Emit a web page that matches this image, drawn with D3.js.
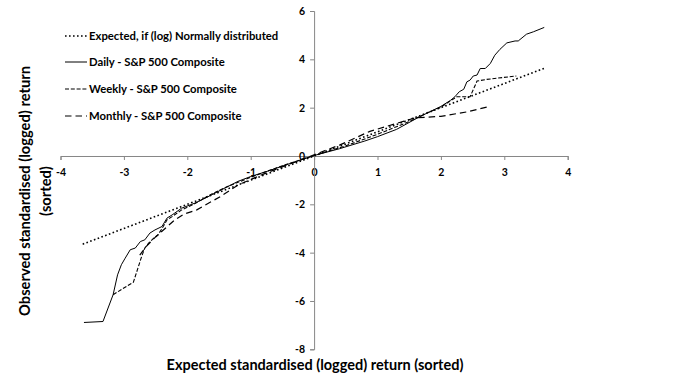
<!DOCTYPE html>
<html><head><meta charset="utf-8">
<script src="https://cdn.jsdelivr.net/npm/d3@7"></script>
<style>
html,body{margin:0;padding:0;background:#fff;}
svg{display:block;font-family:Lato,"Open Sans",sans-serif;}
</style></head>
<body><svg id="c" width="683" height="384"></svg>
<script>
// ---- data ----
const xTicks = [-4,-3,-2,-1,0,1,2,3,4];
const yTicks = [-8,-6,-4,-2,0,2,4,6];
const seriesNames = ["Expected, if (log) Normally distributed","Daily - S&P 500 Composite","Weekly - S&P 500 Composite","Monthly - S&P 500 Composite"];
const expectedPoints = [[-3.65,-3.65],[3.65,3.65]];
const dailyPoints = [[-3.63,-6.89],[-3.33,-6.85],[-3.17,-5.74],[-3.10,-4.92],[-3.04,-4.50],[-2.98,-4.23],[-2.90,-3.88],[-2.82,-3.81],[-2.74,-3.54],[-2.67,-3.47],[-2.59,-3.19],[-2.51,-3.06],[-2.40,-2.92],[-2.32,-2.57],[-2.24,-2.44],[-2.09,-2.16],[-1.88,-1.95],[-1.72,-1.75],[-1.50,-1.45],[-1.20,-1.05],[-1.00,-0.85],[-0.70,-0.60],[-0.40,-0.33],[0,0.02],[0.40,0.30],[0.80,0.62],[1.00,0.80],[1.30,1.10],[1.62,1.56],[1.80,1.80],[2.00,2.05],[2.15,2.30],[2.22,2.45],[2.29,2.66],[2.36,2.76],[2.41,3.07],[2.46,3.14],[2.51,3.31],[2.57,3.35],[2.62,3.62],[2.70,3.62],[2.78,3.83],[2.85,4.17],[2.93,4.41],[3.04,4.68],[3.17,4.76],[3.22,4.76],[3.35,5.04],[3.46,5.14],[3.63,5.32]];
const weeklyPoints = [[-3.17,-5.74],[-2.85,-5.22],[-2.77,-4.57],[-2.72,-4.16],[-2.67,-3.81],[-2.61,-3.61],[-2.53,-3.40],[-2.46,-3.26],[-2.38,-2.92],[-2.32,-2.64],[-2.24,-2.51],[-2.10,-2.25],[-1.90,-2.00],[-1.60,-1.55],[-1.40,-1.30],[-1.00,-0.88],[-0.50,-0.40],[0,0.02],[0.50,0.42],[1.00,0.90],[1.50,1.42],[1.80,1.80],[2.00,2.02],[2.25,2.45],[2.46,2.45],[2.57,3.10],[2.72,3.17],[3.19,3.31]];
const monthlyPoints = [[-2.75,-4.10],[-2.65,-3.75],[-2.50,-3.35],[-2.35,-3.00],[-2.20,-2.65],[-2.05,-2.40],[-1.85,-2.23],[-1.48,-1.68],[-1.20,-1.20],[-0.80,-0.75],[-0.40,-0.35],[0,0.05],[0.40,0.45],[0.88,1.02],[1.30,1.35],[1.60,1.58],[2.00,1.64],[2.40,1.82],[2.75,2.04]];
const xTitle = "Expected standardised (logged) return (sorted)";
const yTitleLines = ["Observed standardised (logged) return","(sorted)"];

// ---- drawing ----
const svg = d3.select("#c");
const x = d3.scaleLinear().domain([-4,4]).range([60.5,567.7]);
const y = d3.scaleLinear().domain([-8,6]).range([349.3,11]);
const axisColor = "#868686";

const styles = [
  {dash:"1.6,2.4", w:1.6},
  {dash:null, w:1},
  {dash:"4,1.8", w:1.1},
  {dash:"6.5,4", w:1.2}
];
const allSeries = [expectedPoints, dailyPoints, weeklyPoints, monthlyPoints];

// x axis through y=0
const gx = svg.append("g").attr("transform",`translate(0,${y(0)})`)
  .call(d3.axisBottom(x).tickValues(xTicks).tickSize(4).tickPadding(9).tickFormat(d3.format("d")));
// y axis through x=0
const gy = svg.append("g").attr("transform",`translate(${x(0)},0)`)
  .call(d3.axisLeft(y).tickValues(yTicks).tickSize(4).tickPadding(5).tickFormat(d3.format("d")));
[gx,gy].forEach(g=>{
  g.select(".domain").attr("stroke",axisColor);
  g.selectAll(".tick line").attr("stroke",axisColor);
  g.selectAll(".tick text").attr("fill","#000").style("font-weight","bold").style("font-size","10.5px").style("font-family","Lato");
});
gx.selectAll(".tick text").text(d=>d<0? "-"+Math.abs(d): d);
gy.selectAll(".tick text").text(d=>d<0? "-"+Math.abs(d): d);

const line = d3.line().x(d=>x(d[0])).y(d=>y(d[1]));
allSeries.forEach((pts,i)=>{
  svg.append("path").datum(pts).attr("d",line)
    .attr("fill","none").attr("stroke","#000")
    .attr("stroke-width",styles[i].w)
    .attr("stroke-dasharray",styles[i].dash);
});

// legend
const legY = [36,62,89,116];
const leg = svg.append("g");
seriesNames.forEach((name,i)=>{
  leg.append("line").attr("x1",65).attr("x2",87).attr("y1",legY[i]).attr("y2",legY[i])
    .attr("stroke","#000").attr("stroke-width",styles[i].w).attr("stroke-dasharray",styles[i].dash);
  leg.append("text").attr("x",89).attr("y",legY[i]).attr("dy","0.35em")
    .style("font-weight","bold").style("font-size","11.3px").attr("fill","#000").text(name);
});

// axis titles
svg.append("text").attr("x",315).attr("y",370).attr("text-anchor","middle")
  .style("font-weight","bold").style("font-size","14.5px").attr("fill","#000").text(xTitle);
const yt = svg.append("text").attr("transform","translate(25,191) rotate(-90)").attr("text-anchor","middle")
  .style("font-weight","bold").style("font-size","14.7px").attr("fill","#000");
yTitleLines.forEach((t,i)=>{
  yt.append("tspan").attr("x",0).attr("y",i*21).attr("dy","0.35em").text(t);
});
</script></body></html>
